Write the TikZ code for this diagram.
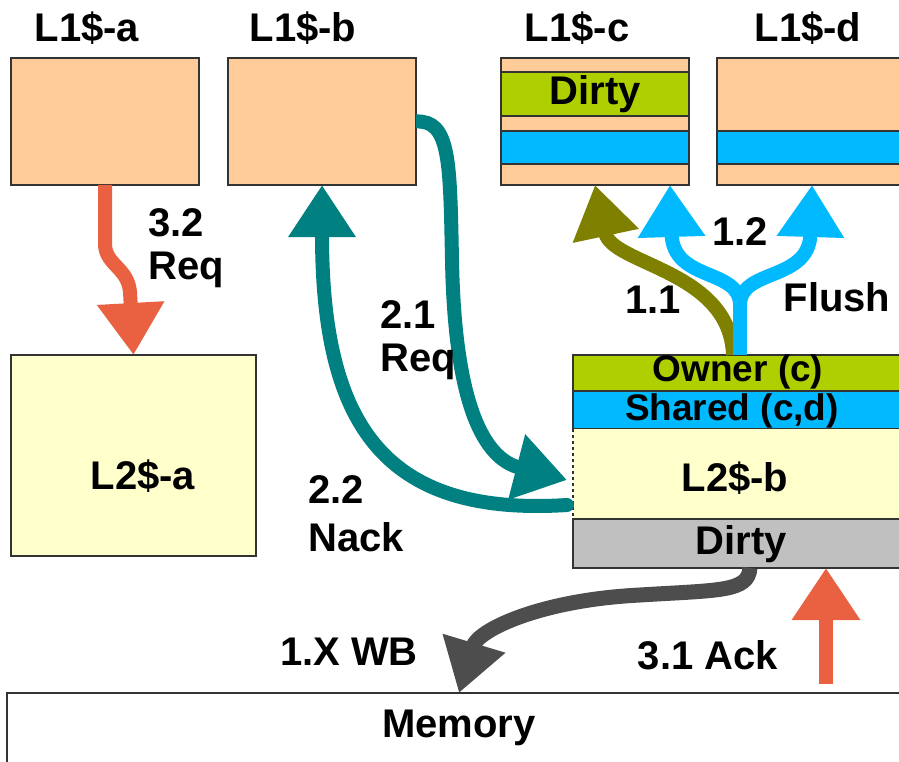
\documentclass[tikz,border=0pt]{standalone}
\usepackage{fontspec}
\setmainfont{Liberation Sans}
\usetikzlibrary{arrows.meta}
\definecolor{peach}{HTML}{FFCC99}
\definecolor{lgreen}{HTML}{AFCF00}
\definecolor{sky}{HTML}{00B9FF}
\definecolor{cream}{HTML}{FFFFCC}
\definecolor{silver}{HTML}{C0C0C0}
\definecolor{teal2}{HTML}{008080}
\definecolor{coral}{HTML}{EA6141}
\definecolor{olive2}{HTML}{808000}
\definecolor{charcoal}{HTML}{4D4D4D}
\definecolor{edge}{HTML}{333333}
\begin{document}
\begin{tikzpicture}[x=1pt,y=-1pt,
  font=\fontsize{40}{42}\selectfont\bfseries,
  box/.style={draw=edge, line width=1.2pt, inner sep=0pt, outer sep=0pt, anchor=north west},
  lbl/.style={inner sep=0pt, text=black},
  tight/.style={inner sep=0pt, text=black, font=\fontsize{37}{38}\selectfont\bfseries},
  lbll/.style={inner sep=0pt, text=black, anchor=west, align=left},
  fat/.style={line width=14pt, -{Triangle[length=52pt,width=64pt]}}]
\useasboundingbox (0,0) rectangle (899,762);

% L1 caches
\node[box, fill=peach, minimum width=188pt, minimum height=127pt] (l1a) at (11,58) {};
\node[box, fill=peach, minimum width=188pt, minimum height=127pt] (l1b) at (228,58) {};
\node[box, fill=peach, minimum width=188pt, minimum height=127pt] (l1c) at (501,58) {};
\node[box, fill=peach, minimum width=190pt, minimum height=127pt] (l1d) at (717,58) {};
\node[box, fill=lgreen, minimum width=188pt, minimum height=44pt] (dirtyc) at (501,72) {Dirty};
\node[box, fill=sky, minimum width=188pt, minimum height=33pt] (sharec) at (501,131) {};
\node[box, fill=sky, minimum width=190pt, minimum height=33pt] (shared) at (717,131) {};

\node[lbl] (la) at (87,28) {L1\$-a};
\node[lbl] (lb) at (303,28) {L1\$-b};
\node[lbl] (lc) at (577,28) {L1\$-c};
\node[lbl] (ld) at (808,28) {L1\$-d};

% L2 caches
\node[box, fill=cream, minimum width=245pt, minimum height=201pt] (l2a) at (11,355) {};
\node[lbl] at (143,476) {L2\$-a};

\node[box, fill=lgreen, minimum width=332pt, minimum height=36pt] (owner) at (573,355) {};
\node[tight] at (738,372) {Owner (c)};
\node[box, fill=sky, minimum width=332pt, minimum height=38pt] (share) at (573,391) {};
\node[tight] at (732,411) {Shared (c,d)};
\node[box, draw=none, fill=cream, minimum width=332pt, minimum height=90pt] (l2b) at (573,429) {};
\draw[edge, line width=1.2pt, dashed] (l2b.north west) -- (l2b.south west);
\node[lbl] at (735,478) {L2\$-b};
\node[box, fill=silver, minimum width=332pt, minimum height=49pt] (dirtyb) at (573,519) {};
\node[lbl] at (741,544) {Dirty};

% memory
\node[box, fill=white, minimum width=904pt, minimum height=80pt] (mem) at (7,693) {};
\node[lbl] at (459,728) {Memory};

% 3.2 request from L1$-a down to L2$-a
\draw[fat, coral] (l1a.south) -- (105,245) .. controls (106,265) and (128,268) .. (130,292) -- (l2a.north);
\node[lbll] at (148,223) {3.2};
\node[lbll] at (148,270) {Req};

% 2.1 request from L1$-b to L2$-b
\coordinate (reqin) at (567,480);
\draw[fat, teal2] (l1b.east) .. controls (450,120) and (450,160) .. (452,260)
  .. controls (455,420) and (490,460) .. (reqin);
\node[lbll] at (380,315) {2.1};
\node[lbll] at (380,362) {Req};

% 2.2 nack back to L1$-b
\coordinate (nackout) at (567,505);
\draw[fat, teal2, line cap=round] (nackout) .. controls (380,517) and (322,420) .. (l1b.south);
\node[lbll] at (308,490) {2.2};
\node[lbll] at (308,537) {Nack};

% 1.1 / 1.2 flush from L2$-b to L1$-c and L1$-d
\coordinate (fork) at (740,305);
\coordinate (tipc) at (670,185);
\coordinate (tipd) at (812,185);
\draw[fat, olive2] (733,355) .. controls (730,270) and (612,265) .. (595,185);
\draw[line width=14pt, sky] (740,355) -- (fork);
\draw[fat, sky] (fork) .. controls (740,268) and (673,282) .. (tipc);
\draw[fat, sky] (fork) .. controls (740,268) and (809,282) .. (tipd);
\node[lbl] at (740,232) {1.2};
\node[lbl] at (653,300) {1.1};
\node[lbl] at (837,297) {Flush};

% 1.X write-back to memory
\draw[line width=15pt, charcoal, -{Triangle[length=52pt,width=62pt]}]
  (750,568) .. controls (748,592) and (720,590) .. (640,595)
  .. controls (540,600) and (478,630) .. (mem.north);
\node[lbl] at (349,652) {1.X WB};

% 3.1 ack from memory
\coordinate (ackfrom) at (826,684);
\draw[line width=14pt, coral, -{Triangle[length=52pt,width=65pt]}] (ackfrom) -- (826,568);
\node[lbl] at (708,655) {3.1 Ack};
\end{tikzpicture}
\end{document}
